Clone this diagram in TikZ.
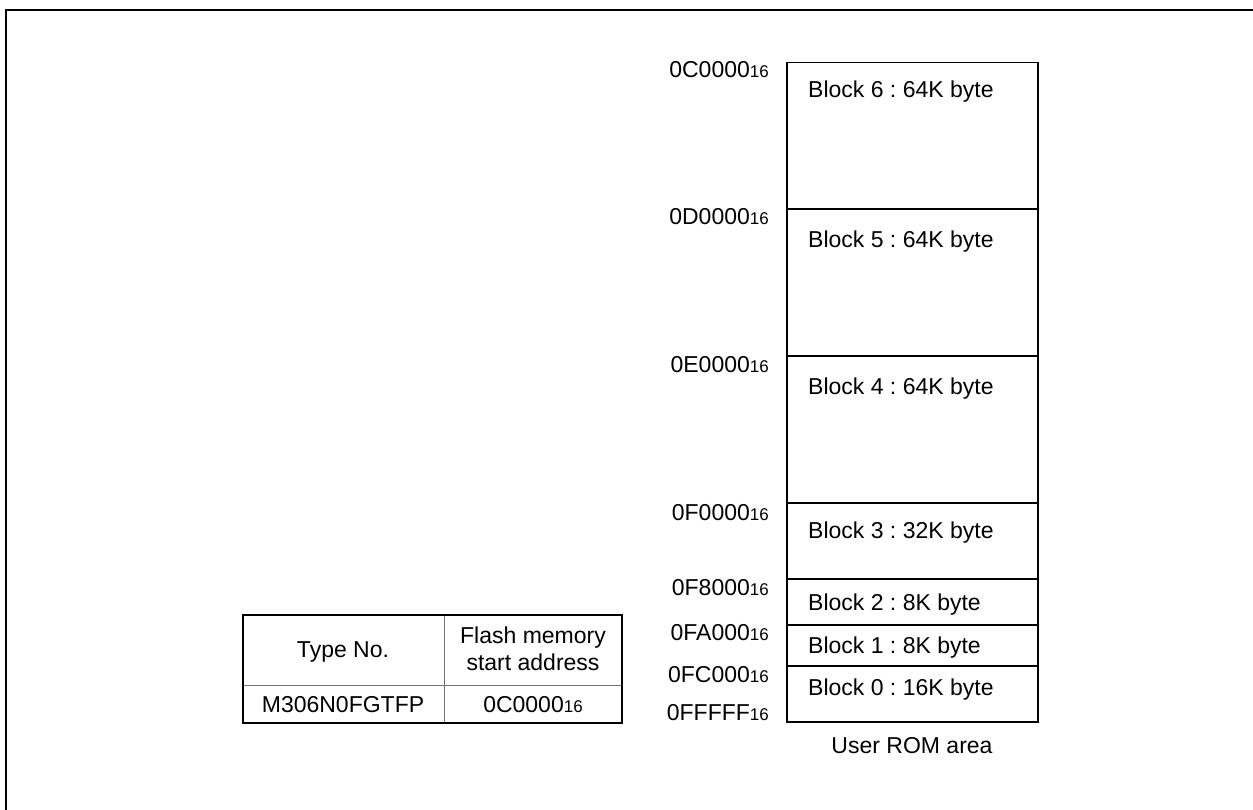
\documentclass[tikz,border=0pt]{standalone}
\usepackage{fontspec}
\setmainfont{Liberation Sans}
\frenchspacing
\newcommand{\hx}[1]{#1{\fontsize{17}{18}\selectfont 16}}
\begin{document}
\begin{tikzpicture}[x=1pt,y=-1pt,
  txt/.style={font=\fontsize{23}{27}\selectfont, inner sep=0pt},
  addr/.style={txt, anchor=base east},
  blk/.style={txt, anchor=base west},
  memline/.style={line width=1.3pt},
  tabouter/.style={line width=1.8pt},
  tabinner/.style={line width=0.9pt, draw=black!55}]
\useasboundingbox (0,0) rectangle (1253,810);
% frame
\draw[line width=2.2pt] (6,810) -- (6,10) -- (1253,10);
% memory map
\draw[memline] (787,62.5) rectangle (1038,722);
\foreach \y in {209,356,503,579,625,666} \draw[memline] (787,\y) -- (1038,\y);
% addresses
\node[addr] (a0) at (769,78) {\hx{0C0000}};
\node[addr] (a1) at (769,225) {\hx{0D0000}};
\node[addr] (a2) at (769,372) {\hx{0E0000}};
\node[addr] (a3) at (769,520) {\hx{0F0000}};
\node[addr] (a4) at (769,595) {\hx{0F8000}};
\node[addr] (a5) at (769,640) {\hx{0FA000}};
\node[addr] (a6) at (769,682) {\hx{0FC000}};
\node[addr] (a7) at (769,720) {\hx{0FFFFF}};
% blocks
\node[blk] (b6) at (808,98) {Block 6 : 64K byte};
\node[blk] (b5) at (808,248) {Block 5 : 64K byte};
\node[blk] (b4) at (808,394) {Block 4 : 64K byte};
\node[blk] (b3) at (808,538) {Block 3 : 32K byte};
\node[blk] (b2) at (808,610) {Block 2 : 8K byte};
\node[blk] (b1) at (808,653) {Block 1 : 8K byte};
\node[blk] (b0) at (808,695) {Block 0 : 16K byte};
\node[txt, anchor=base] (urom) at (912,753) {User ROM area};
% table
\draw[tabinner] (444,615) -- (444,723);
\draw[tabinner] (243,685) -- (622,685);
\draw[tabouter] (243,615) rectangle (622,723);
\node[txt, anchor=base] (t1) at (343,657) {Type No.};
\node[txt, anchor=base] (t2) at (533,643) {Flash memory};
\node[txt, anchor=base] (t3) at (533,670) {start address};
\node[txt, anchor=base] (t4) at (343,712) {M306N0FGTFP};
\node[txt, anchor=base] (t5) at (533,712) {\hx{0C0000}};
\end{tikzpicture}
\end{document}
